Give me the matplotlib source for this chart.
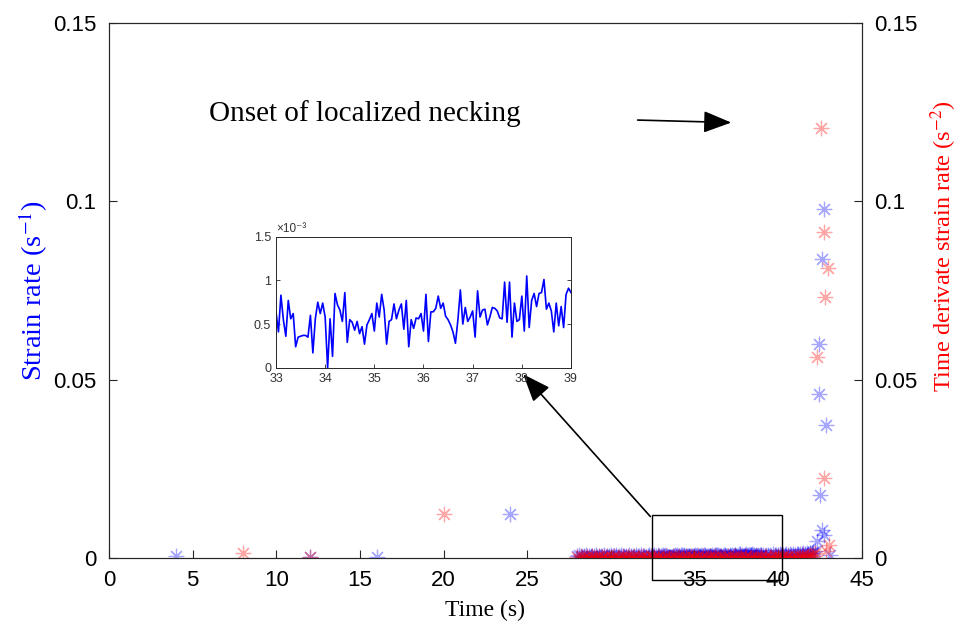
import numpy as np
import matplotlib
matplotlib.use("Agg")
import matplotlib.pyplot as plt
from matplotlib.patches import Rectangle

plt.rcParams['font.family'] = ['Liberation Sans', 'DejaVu Sans']
plt.rcParams['mathtext.fontset'] = 'stix'

# sparse early samples (time s, value s^-1 or s^-2)
strain_sparse_t = [4, 12, 16, 24]
strain_sparse = [0.0004, 0.0002, 0.0002, 0.0123]
deriv_sparse_t = [8, 12, 20]
deriv_sparse = [0.0013, 0.0002, 0.0123]

# strain rate, 28.0-32.9 s every 0.1 s (x1e-3)
strain_early = [0.55, 0.71, 0.38, 0.62, 0.47, 0.80, 0.33, 0.58, 0.66, 0.41,
                0.52, 0.74, 0.29, 0.61, 0.49, 0.57, 0.83, 0.36, 0.63, 0.45,
                0.70, 0.39, 0.56, 0.68, 0.31, 0.59, 0.77, 0.44, 0.51, 0.65,
                0.35, 0.72, 0.48, 0.60, 0.27, 0.69, 0.54, 0.42, 0.79, 0.50,
                0.63, 0.37, 0.58, 0.71, 0.46, 0.55, 0.81, 0.40, 0.67, 0.53]

# strain rate, 33.00-39.00 s every 0.05 s (x1e-3) -> inset
strain_zoom = [0.64, 0.41, 0.83, 0.55, 0.36, 0.77, 0.56, 0.62, 0.24, 0.35,
               0.36, 0.37, 0.37, 0.35, 0.60, 0.17, 0.56, 0.75, 0.62, 0.74,
               0.58, 0.00, 0.56, 0.13, 0.85, 0.72, 0.66, 0.53, 0.86, 0.29,
               0.55, 0.52, 0.43, 0.53, 0.39, 0.47, 0.27, 0.49, 0.55, 0.62,
               0.42,
               0.74, 0.58, 0.84, 0.66, 0.27, 0.53, 0.55, 0.73, 0.56, 0.66,
               0.73, 0.44, 0.77, 0.24, 0.55, 0.45, 0.57, 0.56, 0.62, 0.42,
               0.84, 0.30, 0.64, 0.64, 0.68, 0.82, 0.68, 0.74, 0.59, 0.55,
               0.49, 0.41, 0.28, 0.55, 0.89, 0.50, 0.69, 0.53, 0.58, 0.65,
               0.35, 0.88, 0.58, 0.66, 0.67, 0.49, 0.58, 0.69, 0.68, 0.65,
               0.57, 0.56, 0.98, 0.52, 0.98, 0.35, 0.74, 0.53, 0.55, 0.82,
               0.42, 1.05, 0.46, 0.77, 0.85, 0.70, 0.85, 0.86, 1.01, 0.67,
               0.74, 0.65, 0.41, 0.74, 0.48, 0.70, 0.46, 0.84, 0.91, 0.86]

# strain rate, 39.1-42.2 s every 0.1 s (x1e-3)
strain_late = [0.78, 0.62, 0.91, 0.70, 0.85, 0.66, 0.95, 0.74, 0.88, 0.69,
               0.97, 0.80, 0.92, 0.76, 1.02, 0.86, 0.99, 0.83, 1.08, 0.93,
               1.12, 0.97, 1.18, 1.05, 1.25, 1.14, 1.33, 1.22, 1.45, 1.38,
               1.62, 1.90]

# strain rate at necking
strain_neck_t = [42.30, 42.42, 42.46, 42.50, 42.60, 42.64, 42.75, 42.75, 42.84, 43.10]
strain_neck = [0.0046, 0.0599, 0.0460, 0.0175, 0.0837, 0.0077, 0.0978, 0.0064, 0.0373, 0.0008]

# time derivative, 28.0-42.2 s every 0.1 s (x1e-3)
deriv_band = [0.3, -0.4, 0.6, -0.2, 0.1, -0.5, 0.4, 0.0, -0.3, 0.5,
              -0.1, 0.2, -0.6, 0.4, -0.2, 0.3, 0.1, -0.4, 0.5, -0.3,
              0.2, -0.1, 0.4, -0.5, 0.3, 0.0, -0.2, 0.6, -0.4, 0.1,
              0.5, -0.3, 0.2, -0.1, 0.4, -0.6, 0.3, -0.2, 0.1, 0.5,
              -0.4, 0.2, 0.0, -0.3, 0.6, -0.1, 0.3, -0.5, 0.2, 0.4,
              -0.2, 0.1, -0.4, 0.5, -0.3, 0.2, 0.0, 0.6, -0.5, 0.3,
              -0.1, 0.4, -0.2, 0.1, -0.6, 0.5, -0.3, 0.2, 0.4, -0.1,
              0.3, -0.4, 0.6, -0.2, 0.0, 0.5, -0.5, 0.2, -0.1, 0.4,
              -0.3, 0.1, 0.5, -0.4, 0.2, -0.2, 0.6, -0.1, 0.3, -0.5,
              0.4, 0.0, -0.3, 0.2, 0.5, -0.4, 0.1, -0.2, 0.6, -0.3,
              0.2, 0.4, -0.5, 0.1, -0.1, 0.3, -0.4, 0.5, 0.0, -0.2,
              0.6, -0.3, 0.2, 0.4, -0.6, 0.1, 0.3, -0.2, 0.5, -0.1,
              0.4, -0.4, 0.2, 0.5, -0.3, 0.1, 0.6, -0.2, 0.3, -0.1,
              0.4, 0.2, -0.3, 0.5, 0.1, 0.7, -0.2, 0.6, 0.3, 0.8,
              0.5, 1.0, 1.3]

# time derivative at necking
deriv_neck_t = [42.34, 42.56, 42.72, 42.74, 42.82, 42.86, 42.97, 43.03]
deriv_neck = [0.0562, 0.1205, 0.0225, 0.0915, 0.0731, 0.0018, 0.0812, 0.0036]

t_early = np.round(28.0 + 0.1 * np.arange(len(strain_early)), 2)
t_zoom = np.round(33.0 + 0.05 * np.arange(len(strain_zoom)), 2)
t_late = np.round(39.1 + 0.1 * np.arange(len(strain_late)), 2)
t_deriv = np.round(28.0 + 0.1 * np.arange(len(deriv_band)), 2)

strain_t = np.concatenate([strain_sparse_t, t_early, t_zoom, t_late, strain_neck_t])
strain = np.concatenate([strain_sparse, np.array(strain_early) * 1e-3,
                         np.array(strain_zoom) * 1e-3, np.array(strain_late) * 1e-3,
                         strain_neck])
deriv_t = np.concatenate([deriv_sparse_t, t_deriv, deriv_neck_t])
deriv = np.concatenate([deriv_sparse, np.array(deriv_band) * 1e-3, deriv_neck])

axis_color = '#262626'
mk = dict(marker=(8, 2, 0), s=110, linewidths=0.9, alpha=0.35)

fig = plt.figure(figsize=(9.65, 6.24), dpi=100)
ax = fig.add_axes([0.113, 0.106, 0.780, 0.857])
ax2 = ax.twinx()

ax.scatter(strain_t, strain, color='#0000ff', **mk)
ax2.scatter(deriv_t, deriv, color='#ff0000', **mk)

for a in (ax, ax2):
    a.set_xlim(0, 45)
    a.set_ylim(0, 0.15)
    a.set_yticks([0, 0.05, 0.1, 0.15])
    a.set_yticklabels(['0', '0.05', '0.1', '0.15'])
    for s in a.spines.values():
        s.set_color(axis_color)
        s.set_linewidth(0.8)
ax.set_xticks(range(0, 46, 5))
ax.tick_params(axis='x', direction='in', length=6, width=0.8, colors=axis_color,
               labelsize=16, labelcolor='black', pad=9)
ax.tick_params(axis='y', direction='in', length=6, width=0.8, colors=axis_color,
               labelsize=16, labelcolor='black', pad=9)
ax2.tick_params(axis='y', direction='in', length=6, width=0.8, colors=axis_color,
                labelsize=16, labelcolor='black', pad=9)

serif = ['Liberation Serif', 'DejaVu Serif']
ax.set_xlabel('Time (s)', family=serif, fontsize=17, labelpad=6)
ax.set_ylabel('Strain rate (s$^{-1}$)', family=serif, fontsize=20.5, color='#0000ff')
ax.yaxis.set_label_coords(-0.078, 0.5)
ax2.set_ylabel('Time derivate strain rate (s$^{-2}$)', family=serif, fontsize=17.5,
               color='#ff0000')
ax2.yaxis.set_label_coords(1.088, 0.583)

ax2.text(6.0, 0.1245, 'Onset of localized necking', family=serif, fontsize=21,
         va='center', ha='left')
arrow = dict(arrowstyle='-|>,head_length=1.15,head_width=0.45', color='black',
             lw=1.2, mutation_scale=15, shrinkA=0, shrinkB=0)
ax2.annotate('', xy=(37.2, 0.1221), xytext=(31.6, 0.1228), arrowprops=arrow)
ax2.annotate('', xy=(24.76, 0.0515), xytext=(32.36, 0.0116), arrowprops=arrow)

ax2.add_patch(Rectangle((32.44, -0.0062), 7.8, 0.0181, fill=False, ec='black',
                        lw=1.0, clip_on=False, zorder=5))

# inset
axi = fig.add_axes([0.286, 0.4107, 0.3057, 0.21])
axi.plot(t_zoom, strain_zoom, color='#0000ff', lw=1.2)
axi.set_xlim(33, 39)
axi.set_ylim(0, 1.5)
axi.set_xticks(range(33, 40))
axi.set_yticks([0, 0.5, 1, 1.5])
axi.set_yticklabels(['0', '0.5', '1', '1.5'])
axi.tick_params(direction='in', length=3, width=0.6, colors=axis_color,
                labelsize=9, labelcolor='#333333', top=False, right=True)
for s in axi.spines.values():
    s.set_color(axis_color)
    s.set_linewidth(0.7)
axi.text(0.0, 1.01, '×10⁻³', transform=axi.transAxes, fontsize=8.5,
         color='#333333', ha='left', va='bottom')

fig.savefig('out.png', dpi=100)
